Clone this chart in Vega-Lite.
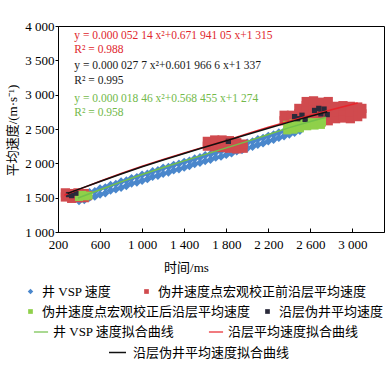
{
  "$schema": "https://vega.github.io/schema/vega-lite/v6.json",
  "width": 326,
  "height": 206,
  "autosize": {"type": "none"},
  "padding": {"left": 58, "top": 26, "right": 8, "bottom": 136},
  "config": {
    "view": {"stroke": "black", "strokeWidth": 1},
    "font": "Liberation Serif, Noto Sans CJK SC",
    "axis": {"domainColor": "black", "tickColor": "black", "labelColor": "black", "titleColor": "black", "grid": false, "labelFont": "Liberation Serif", "labelFontSize": 13, "titleFont": "Liberation Serif, Noto Sans CJK SC", "titleFontSize": 13, "titleFontWeight": "normal"},
    "legend": {"labelFont": "Liberation Serif, Noto Sans CJK SC", "labelFontSize": 13, "labelColor": "black", "padding": 0, "orient": "none", "direction": "horizontal", "labelLimit": 400, "title": null}
  },
  "resolve": {"scale": {"color": "independent"}, "legend": {"color": "independent"}},
  "datasets": {
    "vsp": [
      {"t":400,"v":1525},{"t":450,"v":1540},{"t":500,"v":1580},{"t":550,"v":1595},{"t":600,"v":1635},{"t":650,"v":1650},{"t":700,"v":1685},{"t":750,"v":1700},{"t":800,"v":1735},{"t":850,"v":1750},{"t":900,"v":1785},{"t":950,"v":1800},{"t":1000,"v":1835},{"t":1050,"v":1850},{"t":1100,"v":1885},{"t":1150,"v":1900},{"t":1200,"v":1935},{"t":1250,"v":1948},{"t":1300,"v":1978},{"t":1350,"v":1995},{"t":1400,"v":2022},{"t":1450,"v":2040},{"t":1500,"v":2070},{"t":1550,"v":2088},{"t":1600,"v":2118},{"t":1650,"v":2134},{"t":1700,"v":2162},{"t":1750,"v":2178},{"t":1800,"v":2208},{"t":1850,"v":2225},{"t":1900,"v":2255},{"t":1950,"v":2272},{"t":2000,"v":2302},{"t":2050,"v":2320},{"t":2100,"v":2352},{"t":2150,"v":2370},{"t":2200,"v":2400},{"t":2250,"v":2420},{"t":2300,"v":2450},{"t":2350,"v":2470},{"t":2400,"v":2500},{"t":2450,"v":2518},{"t":2500,"v":2540},
      {"t":400,"v":1450},{"t":450,"v":1465},{"t":500,"v":1500},{"t":550,"v":1515},{"t":600,"v":1545},{"t":650,"v":1565},{"t":700,"v":1605},{"t":750,"v":1620},{"t":800,"v":1645},{"t":850,"v":1670},{"t":900,"v":1705},{"t":950,"v":1720},{"t":1000,"v":1747},{"t":1050,"v":1770},{"t":1100,"v":1803},{"t":1150,"v":1820},{"t":1200,"v":1847},{"t":1250,"v":1867},{"t":1300,"v":1897},{"t":1350,"v":1913},{"t":1400,"v":1937},{"t":1450,"v":1960},{"t":1500,"v":1990},{"t":1550,"v":2007},{"t":1600,"v":2033},{"t":1650,"v":2053},{"t":1700,"v":2083},{"t":1750,"v":2097},{"t":1800,"v":2123},{"t":1850,"v":2145},{"t":1900,"v":2175},{"t":1950,"v":2193},{"t":2000,"v":2220},{"t":2050,"v":2241},{"t":2100,"v":2270},{"t":2150,"v":2290},{"t":2200,"v":2320},{"t":2250,"v":2343},{"t":2300,"v":2370},{"t":2350,"v":2393},{"t":2400,"v":2420},{"t":2450,"v":2445},{"t":2500,"v":2475}
    ],
    "red": [
      {"t":270,"v":1510},{"t":270,"v":1570},{"t":330,"v":1490},{"t":330,"v":1560},{"t":390,"v":1500},{"t":390,"v":1570},{"t":450,"v":1500},{"t":450,"v":1560},{"t":480,"v":1530},{"t":300,"v":1540},{"t":420,"v":1530},
      {"t":1620,"v":2250},{"t":1620,"v":2320},{"t":1690,"v":2240},{"t":1690,"v":2340},{"t":1760,"v":2230},{"t":1760,"v":2340},{"t":1830,"v":2220},{"t":1830,"v":2330},{"t":1900,"v":2210},{"t":1900,"v":2300},{"t":1960,"v":2220},{"t":1960,"v":2280},{"t":1700,"v":2290},{"t":1800,"v":2280},{"t":1880,"v":2260},
      {"t":2350,"v":2620},{"t":2350,"v":2700},{"t":2420,"v":2610},{"t":2420,"v":2700},{"t":2490,"v":2620},{"t":2490,"v":2720},{"t":2490,"v":2800},
      {"t":2560,"v":2640},{"t":2560,"v":2740},{"t":2560,"v":2840},{"t":2560,"v":2900},{"t":2630,"v":2620},{"t":2630,"v":2720},{"t":2630,"v":2820},{"t":2630,"v":2910},
      {"t":2700,"v":2600},{"t":2700,"v":2700},{"t":2700,"v":2800},{"t":2700,"v":2890},{"t":2770,"v":2620},{"t":2770,"v":2720},{"t":2770,"v":2820},{"t":2770,"v":2900},
      {"t":2840,"v":2650},{"t":2840,"v":2750},{"t":2840,"v":2830},{"t":2910,"v":2660},{"t":2910,"v":2760},{"t":2910,"v":2840},{"t":2980,"v":2650},{"t":2980,"v":2750},{"t":2980,"v":2830},
      {"t":3050,"v":2680},{"t":3050,"v":2770},{"t":3050,"v":2820},{"t":3090,"v":2720},{"t":3090,"v":2800}
    ],
    "green": [
      {"t":400,"v":1510},{"t":460,"v":1520},{"t":430,"v":1540},{"t":490,"v":1530},
      {"t":2380,"v":2480},{"t":2380,"v":2560},{"t":2440,"v":2490},{"t":2440,"v":2580},{"t":2500,"v":2510},{"t":2500,"v":2590},{"t":2570,"v":2540},{"t":2570,"v":2600},{"t":2640,"v":2550},{"t":2640,"v":2600},{"t":2700,"v":2560},{"t":2710,"v":2600}
    ],
    "black": [
      {"t":300,"v":1545},{"t":330,"v":1530},{"t":370,"v":1565},{"t":1820,"v":2320},{"t":2450,"v":2680},{"t":2480,"v":2650},{"t":2520,"v":2700},{"t":2550,"v":2640},{"t":2640,"v":2770},{"t":2680,"v":2800},{"t":2700,"v":2720},{"t":2730,"v":2790},{"t":2760,"v":2710}
    ],
    "greenLine": [
      {"t":390,"v":1495},{"t":600,"v":1615},{"t":800,"v":1730},{"t":1000,"v":1838},{"t":1200,"v":1940},{"t":1400,"v":2036},{"t":1600,"v":2130},{"t":1800,"v":2225},{"t":2000,"v":2320},{"t":2200,"v":2420},{"t":2400,"v":2520},{"t":2600,"v":2610},{"t":2750,"v":2670}
    ],
    "redLine": [
      {"t":260,"v":1535},{"t":400,"v":1620},{"t":600,"v":1738},{"t":800,"v":1852},{"t":1000,"v":1958},{"t":1200,"v":2055},{"t":1400,"v":2150},{"t":1600,"v":2243},{"t":1800,"v":2333},{"t":2000,"v":2430},{"t":2200,"v":2525},{"t":2400,"v":2615},{"t":2600,"v":2700},{"t":2800,"v":2780},{"t":3050,"v":2880}
    ],
    "blackLine": [
      {"t":290,"v":1560},{"t":400,"v":1625},{"t":600,"v":1735},{"t":800,"v":1845},{"t":1000,"v":1950},{"t":1200,"v":2048},{"t":1400,"v":2143},{"t":1600,"v":2237},{"t":1800,"v":2328},{"t":2000,"v":2420},{"t":2200,"v":2512},{"t":2400,"v":2600},{"t":2600,"v":2685},{"t":2760,"v":2750}
    ],
    "annRed": [
      {"t":355,"v":3854,"label":"y = 0.000 052 14 x²+0.671 941 05 x+1 315"},
      {"t":355,"v":3650,"label":"R² = 0.988"}
    ],
    "annBlack": [
      {"t":355,"v":3417,"label":"y = 0.000 027 7 x²+0.601 966 6 x+1 337"},
      {"t":355,"v":3199,"label":"R² = 0.995"}
    ],
    "annGreen": [
      {"t":355,"v":2937,"label":"y = 0.000 018 46 x²+0.568 455 x+1 274"},
      {"t":355,"v":2733,"label":"R² = 0.958"}
    ]
  },
  "encoding": {
    "x": {"field": "t", "type": "quantitative", "scale": {"domain": [200, 3300], "nice": false, "zero": false},
      "axis": {"values": [200, 600, 1000, 1400, 1800, 2200, 2600, 3000], "labelExpr": "replace(format(datum.value, ','), ',', ' ')", "title": "时间/ms", "tickSize": -4, "labelPadding": 10, "titlePadding": 10, "titleX": 128, "titleAlign": "center", "titleAnchor": null, "labelFlush": false}},
    "y": {"field": "v", "type": "quantitative", "scale": {"domain": [1000, 4000], "nice": false, "zero": false},
      "axis": {"values": [1000, 1500, 2000, 2500, 3000, 3500, 4000], "labelExpr": "replace(format(datum.value, ','), ',', ' ')", "title": "平均速度/(m·s⁻¹)", "tickSize": 3, "labelPadding": 1, "titleX": -39, "titleY": 104, "titleAngle": -90, "titleAlign": "center", "titleBaseline": "bottom", "titleAnchor": null, "labelFlush": false}}
  },
  "layer": [
    {"data": {"name": "vsp"}, "mark": {"type": "point", "shape": "diamond", "filled": true, "size": 70, "opacity": 1, "strokeWidth": 0},
      "encoding": {"color": {"datum": "井 VSP 速度", "type": "nominal", "scale": {"domain": ["井 VSP 速度"], "range": ["#4a87cc"]},
        "legend": {"legendX": -34, "legendY": 259, "symbolSize": 30, "labelOffset": 5, "symbolType": "diamond", "symbolStrokeWidth": 0}}}},
    {"data": {"name": "red"}, "mark": {"type": "point", "shape": "square", "filled": true, "size": 85, "opacity": 1, "strokeWidth": 0},
      "encoding": {"color": {"datum": "伪井速度点宏观校正前沿层平均速度", "type": "nominal", "scale": {"domain": ["伪井速度点宏观校正前沿层平均速度"], "range": ["#d04a4e"]},
        "legend": {"legendX": 82, "legendY": 259, "symbolSize": 22, "labelOffset": 5, "symbolType": "square", "symbolStrokeWidth": 0}}}},
    {"data": {"name": "green"}, "mark": {"type": "point", "shape": "square", "filled": true, "size": 65, "opacity": 1, "strokeWidth": 0},
      "encoding": {"color": {"datum": "伪井速度点宏观校正后沿层平均速度", "type": "nominal", "scale": {"domain": ["伪井速度点宏观校正后沿层平均速度"], "range": ["#8fd04a"]},
        "legend": {"legendX": -34, "legendY": 279, "symbolSize": 22, "labelOffset": 5, "symbolType": "square", "symbolStrokeWidth": 0}}}},
    {"data": {"name": "black"}, "mark": {"type": "point", "shape": "square", "filled": true, "size": 28, "opacity": 1, "strokeWidth": 0},
      "encoding": {"color": {"datum": "沿层伪井平均速度", "type": "nominal", "scale": {"domain": ["沿层伪井平均速度"], "range": ["#2a2a3a"]},
        "legend": {"legendX": 203, "legendY": 279, "symbolSize": 22, "labelOffset": 5, "symbolType": "square", "symbolStrokeWidth": 0}}}},
    {"data": {"name": "greenLine"}, "mark": {"type": "line", "strokeWidth": 1.5},
      "encoding": {"color": {"datum": "井 VSP 速度拟合曲线", "type": "nominal", "scale": {"domain": ["井 VSP 速度拟合曲线"], "range": ["#72c04a"]},
        "legend": {"legendX": -25, "legendY": 298, "symbolSize": 200, "labelOffset": 4, "symbolType": "stroke", "symbolStrokeWidth": 1.2}}}},
    {"data": {"name": "redLine"}, "mark": {"type": "line", "strokeWidth": 1.5},
      "encoding": {"color": {"datum": "沿层平均速度拟合曲线", "type": "nominal", "scale": {"domain": ["沿层平均速度拟合曲线"], "range": ["#e8242b"]},
        "legend": {"legendX": 150, "legendY": 298, "symbolSize": 200, "labelOffset": 4, "symbolType": "stroke", "symbolStrokeWidth": 1.2}}}},
    {"data": {"name": "blackLine"}, "mark": {"type": "line", "strokeWidth": 1.5},
      "encoding": {"color": {"datum": "沿层伪井平均速度拟合曲线", "type": "nominal", "scale": {"domain": ["沿层伪井平均速度拟合曲线"], "range": ["#111111"]},
        "legend": {"legendX": 50, "legendY": 317, "symbolSize": 289, "labelOffset": 6, "symbolType": "stroke", "symbolStrokeWidth": 1.5}}}},
    {"data": {"name": "annRed"}, "mark": {"type": "text", "align": "left", "baseline": "middle", "font": "Liberation Serif", "fontSize": 11.5, "color": "#e0262d"},
      "encoding": {"text": {"field": "label"}}},
    {"data": {"name": "annBlack"}, "mark": {"type": "text", "align": "left", "baseline": "middle", "font": "Liberation Serif", "fontSize": 11.5, "color": "#1a1a1a"},
      "encoding": {"text": {"field": "label"}}},
    {"data": {"name": "annGreen"}, "mark": {"type": "text", "align": "left", "baseline": "middle", "font": "Liberation Serif", "fontSize": 11.5, "color": "#72b94a"},
      "encoding": {"text": {"field": "label"}}}
  ]
}
